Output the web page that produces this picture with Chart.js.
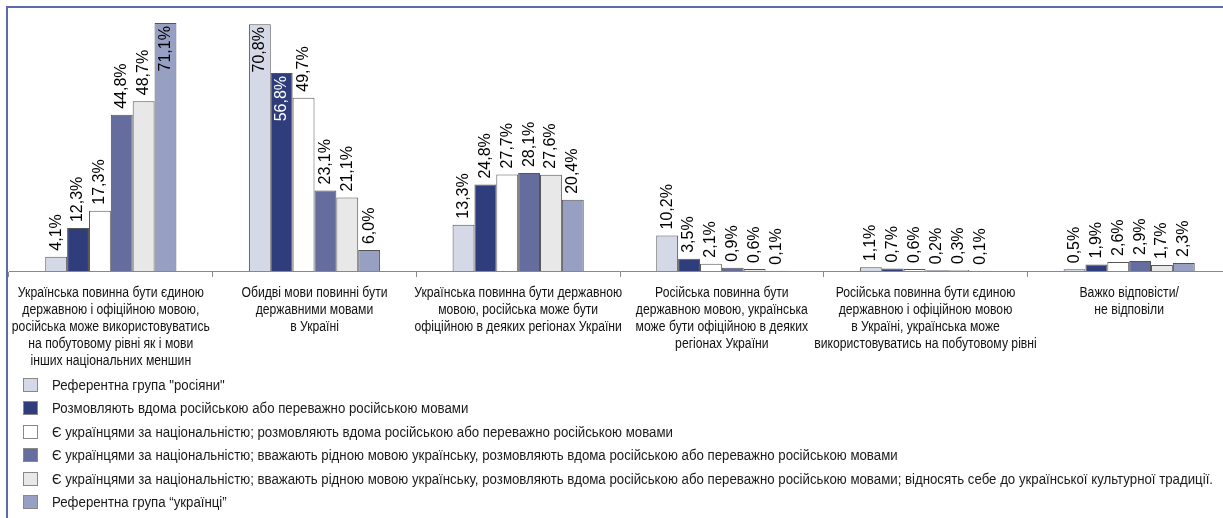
<!DOCTYPE html>
<html><head><meta charset="utf-8">
<script src="https://cdn.jsdelivr.net/npm/chart.js@4/dist/chart.umd.min.js"></script>
<style>
html,body{margin:0;padding:0;background:#fff;}
#wrap{position:relative;width:1223px;height:518px;overflow:hidden;}
#frame{position:absolute;left:6px;top:6px;right:-10px;bottom:-10px;border-top:2px solid #5d6ba8;border-left:2px solid #5d6ba8;pointer-events:none;}
#c{position:absolute;left:0;top:0;}
#legend{position:absolute;left:23px;top:373px;font-family:'Liberation Sans',Arial,sans-serif;font-size:14px;color:#1a1a1a;}
.row{height:23.5px;display:flex;align-items:center;white-space:nowrap;}
.box{width:15px;height:14px;border:1px solid #888;box-sizing:border-box;margin-right:14px;flex:none;}
.txt{display:inline-block;transform-origin:0 50%;}
</style>
</head><body>
<div id="wrap">
<canvas id="c" width="1232" height="518" style="width:1232px;height:518px"></canvas>
<div id="frame"></div>
<div id="legend"></div>
</div>
<script>
const categories = [
  ["Українська повинна бути єдиною", "державною і офіційною мовою,", "російська може використовуватись", "на побутовому рівні як і мови", "інших національних меншин"],
  ["Обидві мови повинні бути", "державними мовами", "в Україні"],
  ["Українська повинна бути державною", "мовою, російська може бути", "офіційною в деяких регіонах України"],
  ["Російська повинна бути", "державною мовою, українська", "може бути офіційною в деяких", "регіонах України"],
  ["Російська повинна бути єдиною", "державною і офіційною мовою", "в Україні, українська може", "використовуватись на побутовому рівні"],
  ["Важко відповісти/", "не відповіли"]
];
const seriesNames = [
  "Референтна група \"росіяни\"",
  "Розмовляють вдома російською або переважно російською мовами",
  "Є українцями за національністю; розмовляють вдома російською або переважно російською мовами",
  "Є українцями за національністю; вважають рідною мовою українську, розмовляють вдома російською або переважно російською мовами",
  "Є українцями за національністю; вважають рідною мовою українську, розмовляють вдома російською або переважно російською мовами; відносять себе до української культурної традиції.",
  "Референтна група “українці”"
];
const refRussians   = [4.1, 70.8, 13.3, 10.2, 1.1, 0.5];
const speakRussian  = [12.3, 56.8, 24.8, 3.5, 0.7, 1.9];
const ukrSpeakRus   = [17.3, 49.7, 27.7, 2.1, 0.6, 2.6];
const ukrNativeUkr  = [44.8, 23.1, 28.1, 0.9, 0.2, 2.9];
const ukrTradition  = [48.7, 21.1, 27.6, 0.6, 0.3, 1.7];
const refUkrainians = [71.1, 6.0, 20.4, 0.1, 0.1, 2.3];

const seriesValues = [refRussians, speakRussian, ukrSpeakRus, ukrNativeUkr, ukrTradition, refUkrainians];
const seriesColors = ['#d5d8e6', '#2f3d7c', '#ffffff', '#646d9d', '#e8e8e8', '#979fc2'];

const CAT_FONT = "14px 'Liberation Sans', Arial, sans-serif";
const CAT_SCALE_X = 0.87;
const CAT_FIRST_Y = 293;
const CAT_LINE_H = 17;

const labelPlugin = {
  id: 'vlabels',
  afterDatasetsDraw(chart) {
    const ctx = chart.ctx;
    ctx.save();
    ctx.font = "16px 'Liberation Sans', Arial, sans-serif";
    chart.data.datasets.forEach((ds, i) => {
      const meta = chart.getDatasetMeta(i);
      meta.data.forEach((bar, j) => {
        const v = ds.data[j];
        const txt = v.toFixed(1).replace('.', ',') + '%';
        ctx.save();
        ctx.translate(bar.x, bar.y);
        ctx.rotate(-Math.PI / 2);
        ctx.textBaseline = 'middle';
        if (v > 50) {
          ctx.textAlign = 'right';
          ctx.fillStyle = i === 1 ? '#ffffff' : '#000000';
          ctx.fillText(txt, -3, 0);
        } else {
          ctx.textAlign = 'left';
          ctx.fillStyle = '#000000';
          ctx.fillText(txt, 6, 0);
        }
        ctx.restore();
      });
    });
    ctx.restore();
  }
};

const catLabelPlugin = {
  id: 'catlabels',
  afterDraw(chart) {
    const ctx = chart.ctx;
    const xs = chart.scales.x;
    ctx.save();
    ctx.font = CAT_FONT;
    ctx.fillStyle = '#111';
    ctx.textAlign = 'center';
    ctx.textBaseline = 'middle';
    chart.data.labels.forEach((lines, i) => {
      const cx = xs.getPixelForTick(i);
      lines.forEach((line, k) => {
        ctx.save();
        ctx.translate(cx, CAT_FIRST_Y + k * CAT_LINE_H);
        ctx.scale(CAT_SCALE_X, 1);
        ctx.fillText(line, 0, 0);
        ctx.restore();
      });
    });
    ctx.restore();
  }
};

new Chart(document.getElementById('c'), {
  type: 'bar',
  data: {
    labels: categories,
    datasets: seriesValues.map((vals, i) => ({
      label: seriesNames[i],
      data: vals,
      backgroundColor: seriesColors[i],
      borderColor: '#555',
      borderWidth: 1,
      borderSkipped: 'bottom',
      categoryPercentage: 0.644,
      barPercentage: 1.0
    }))
  },
  options: {
    responsive: false,
    animation: false,
    layout: { padding: { top: 9.5, left: 9, right: 1, bottom: 0 } },
    plugins: { legend: { display: false }, tooltip: { enabled: false } },
    scales: {
      y: { display: false, min: 0, max: 75 },
      x: {
        offset: true,
        grid: { display: true, drawOnChartArea: false, offset: true, tickLength: 6, color: '#888' },
        border: { color: '#888' },
        ticks: { display: false },
        afterFit(scale) { scale.height = 247; }
      }
    }
  },
  plugins: [labelPlugin, catLabelPlugin]
});

const leg = document.getElementById('legend');
const txtEls = [];
seriesNames.forEach((name, i) => {
  const row = document.createElement('div');
  row.className = 'row';
  const box = document.createElement('span');
  box.className = 'box';
  box.style.background = seriesColors[i];
  const t = document.createElement('span');
  t.className = 'txt';
  t.textContent = name;
  row.appendChild(box);
  row.appendChild(t);
  leg.appendChild(row);
  txtEls.push(t);
});
const longest = Math.max(...txtEls.map(e => e.getBoundingClientRect().width));
const sx = Math.min(1, 1161 / longest);
txtEls.forEach(e => { e.style.transform = 'scaleX(' + sx + ')'; });
</script>
</body></html>
